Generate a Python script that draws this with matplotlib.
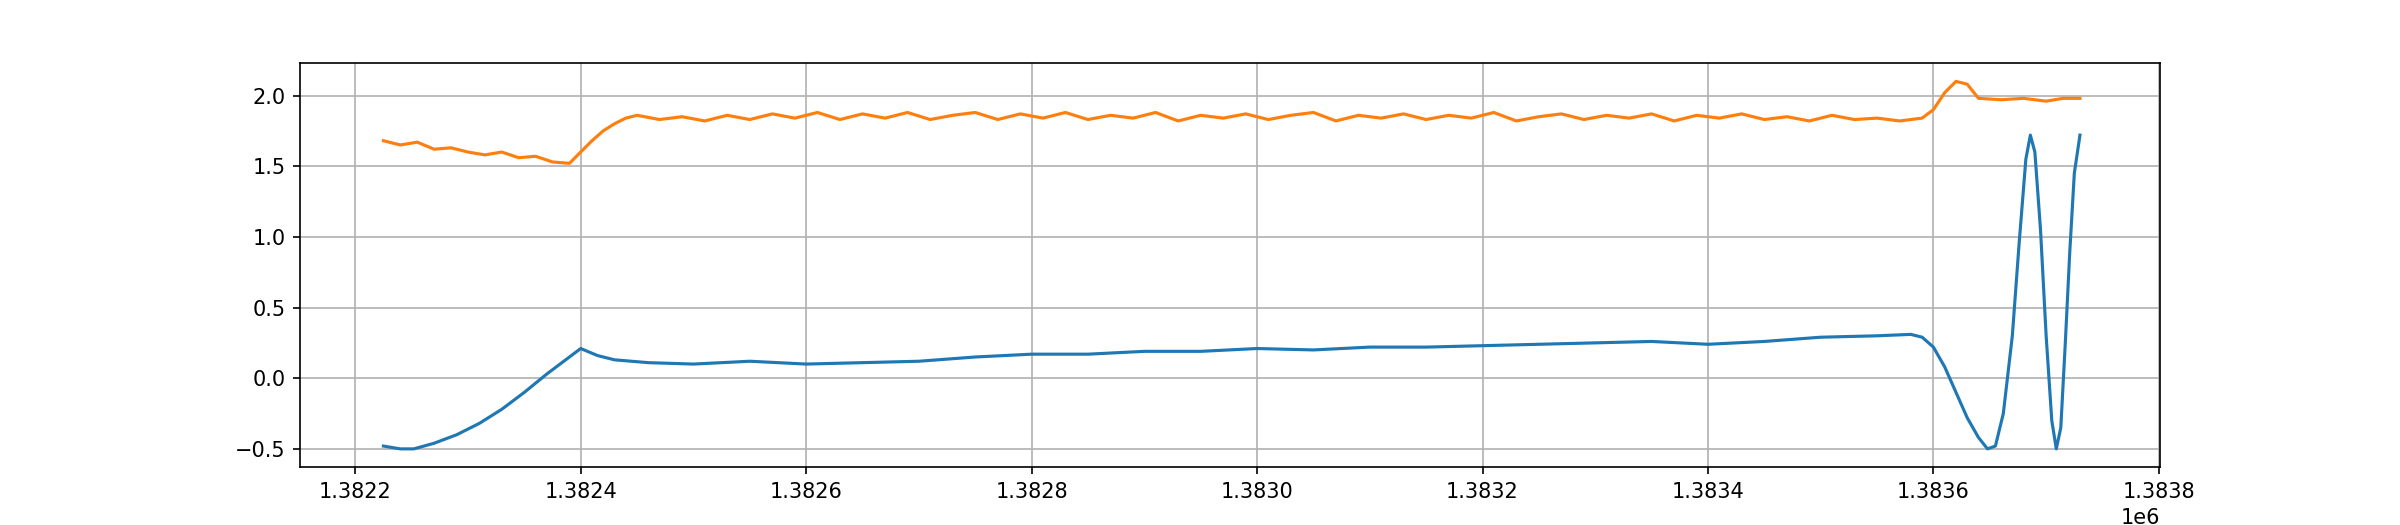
import matplotlib
matplotlib.use("Agg")
import matplotlib.pyplot as plt

blue_x = [1382225, 1382240, 1382252, 1382270, 1382290, 1382310, 1382330, 1382350, 1382370, 1382390, 1382400,
          1382415, 1382430, 1382460, 1382500, 1382550, 1382600, 1382650, 1382700, 1382750, 1382800, 1382850,
          1382900, 1382950, 1383000, 1383050, 1383100, 1383150, 1383200, 1383250, 1383300, 1383350, 1383400,
          1383450, 1383500, 1383550, 1383580, 1383590, 1383600, 1383610, 1383620, 1383630, 1383640, 1383648,
          1383655, 1383662, 1383670, 1383676, 1383682, 1383686, 1383690, 1383695, 1383700, 1383705, 1383709,
          1383713, 1383717, 1383721, 1383725, 1383730]
blue_y = [-0.48, -0.50, -0.50, -0.46, -0.40, -0.32, -0.22, -0.10, 0.03, 0.15, 0.21,
          0.16, 0.13, 0.11, 0.10, 0.12, 0.10, 0.11, 0.12, 0.15, 0.17, 0.17,
          0.19, 0.19, 0.21, 0.20, 0.22, 0.22, 0.23, 0.24, 0.25, 0.26, 0.24,
          0.26, 0.29, 0.30, 0.31, 0.29, 0.22, 0.08, -0.10, -0.28, -0.42, -0.50,
          -0.48, -0.25, 0.30, 0.95, 1.55, 1.72, 1.60, 1.05, 0.30, -0.30, -0.50,
          -0.35, 0.25, 0.90, 1.45, 1.72]

orange_x = [1382225, 1382240, 1382255, 1382270, 1382285, 1382300, 1382315, 1382330, 1382345, 1382360,
            1382375, 1382390, 1382400, 1382410, 1382420, 1382430, 1382440, 1382450, 1382470, 1382490,
            1382510, 1382530, 1382550, 1382570, 1382590, 1382610, 1382630, 1382650, 1382670, 1382690,
            1382710, 1382730, 1382750, 1382770, 1382790, 1382810, 1382830, 1382850, 1382870, 1382890,
            1382910, 1382930, 1382950, 1382970, 1382990, 1383010, 1383030, 1383050, 1383070, 1383090,
            1383110, 1383130, 1383150, 1383170, 1383190, 1383210, 1383230, 1383250, 1383270, 1383290,
            1383310, 1383330, 1383350, 1383370, 1383390, 1383410, 1383430, 1383450, 1383470, 1383490,
            1383510, 1383530, 1383550, 1383570, 1383590, 1383600, 1383610, 1383620, 1383630, 1383640,
            1383660, 1383680, 1383700, 1383715, 1383730]
orange_y = [1.68, 1.65, 1.67, 1.62, 1.63, 1.60, 1.58, 1.60, 1.56, 1.57,
            1.53, 1.52, 1.60, 1.68, 1.75, 1.80, 1.84, 1.86, 1.83, 1.85,
            1.82, 1.86, 1.83, 1.87, 1.84, 1.88, 1.83, 1.87, 1.84, 1.88,
            1.83, 1.86, 1.88, 1.83, 1.87, 1.84, 1.88, 1.83, 1.86, 1.84,
            1.88, 1.82, 1.86, 1.84, 1.87, 1.83, 1.86, 1.88, 1.82, 1.86,
            1.84, 1.87, 1.83, 1.86, 1.84, 1.88, 1.82, 1.85, 1.87, 1.83,
            1.86, 1.84, 1.87, 1.82, 1.86, 1.84, 1.87, 1.83, 1.85, 1.82,
            1.86, 1.83, 1.84, 1.82, 1.84, 1.90, 2.02, 2.10, 2.08, 1.98,
            1.97, 1.98, 1.96, 1.98, 1.98]

fig, ax = plt.subplots(figsize=(16, 3.5), dpi=150)
ax.plot(blue_x, blue_y, color="#1f77b4")
ax.plot(orange_x, orange_y, color="#ff7f0e")
ax.grid(True)
ax.set_xlim(1382151, 1383801)
fig.savefig("out.png")
